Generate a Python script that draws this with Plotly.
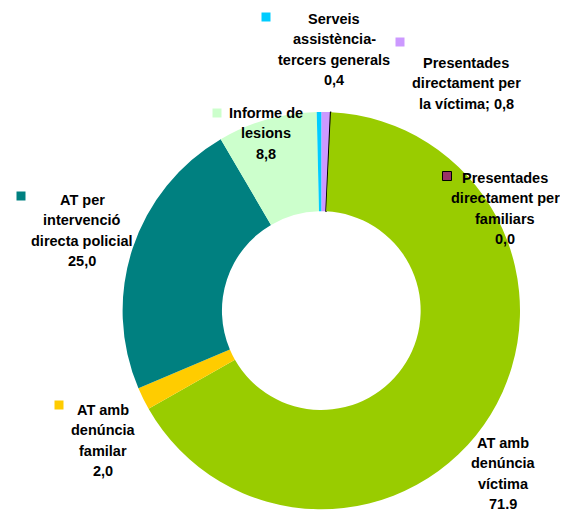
import plotly.graph_objects as go

# page body adds an 8px margin; figure is sized so the whole reference frame fits
OFF = 8
W, H = 568 - OFF, 513 - OFF

# Data (clockwise from 12 o'clock)
categories = [
    "Presentades directament per la víctima",
    "Presentades directament per familiars",
    "AT amb denúncia víctima",
    "AT amb denúncia familar",
    "AT per intervenció directa policial",
    "Informe de lesions",
    "Serveis assistència-tercers generals",
]
values = [0.8, 0.04, 71.9, 2.0, 25.0, 8.8, 0.4]
value_labels = ["0,8", "0,0", "71.9", "2,0", "25,0", "8,8", "0,4"]
label_lines = [
    ["Presentades", "directament per", "la víctima; {v}"],
    ["Presentades", "directament per", "familiars", "{v}"],
    ["AT amb", "denúncia", "víctima", "{v}"],
    ["AT amb", "denúncia", "familar", "{v}"],
    ["AT per", "intervenció", "directa policial", "{v}"],
    ["Informe de", "lesions", "{v}"],
    ["Serveis", "assistència-", "tercers generals", "{v}"],
]
colors = ["#CC99FF", "#993366", "#99CC00", "#FFCC00", "#008080", "#CCFFCC", "#00CCFF"]

# label layout in reference pixels: centre x, first line centre y; legend squares
label_pos = [(466, 63), (505, 178), (503, 443), (103, 410), (82, 200), (266, 113), (334, 19)]
square_pos = [(400, 42), (447, 176), None, (59, 405), (21, 196), (217, 113), (266, 17)]
LINE_H = 20.3

FONT = "Liberation Sans, Arial, sans-serif"

def px(x):
    return (x - OFF) / W

def py(y):
    return 1 - (y - OFF) / H

cx, cy, r = 321.3, 310.6, 198.7

fig = go.Figure()
fig.add_trace(go.Pie(
    labels=categories,
    values=values,
    sort=False,
    direction="clockwise",
    rotation=0,
    hole=0.5,
    marker=dict(
        colors=colors,
        line=dict(color=["rgba(0,0,0,0)", "#000000"] + ["rgba(0,0,0,0)"] * 5,
                  width=[0, 1.2] + [0] * 5),
    ),
    textinfo="none",
    hoverinfo="label+value",
    showlegend=False,
    domain=dict(x=[px(cx - r), px(cx + r)], y=[py(cy + r), py(cy - r)]),
))

for i, cat in enumerate(categories):
    lx, ly = label_pos[i]
    for j, line in enumerate(label_lines[i]):
        fig.add_annotation(
            x=px(lx), y=py(ly + j * LINE_H), xref="paper", yref="paper",
            xanchor="center", yanchor="middle",
            text="<b>" + line.format(v=value_labels[i]) + "</b>",
            showarrow=False, align="center",
            font=dict(family=FONT, size=14.5, color="#000000"),
        )
    sp = square_pos[i]
    if sp is not None:
        sx, sy = sp
        s = 4.5
        fig.add_shape(
            type="rect", xref="paper", yref="paper",
            x0=px(sx - s), x1=px(sx + s), y0=py(sy + s), y1=py(sy - s),
            fillcolor=colors[i],
            line=dict(color="#000000" if i == 1 else colors[i], width=1 if i == 1 else 0),
        )

fig.update_layout(
    width=W, height=H,
    margin=dict(l=0, r=0, t=0, b=0),
    paper_bgcolor="white",
    plot_bgcolor="white",
)

fig.write_html("out.html")
